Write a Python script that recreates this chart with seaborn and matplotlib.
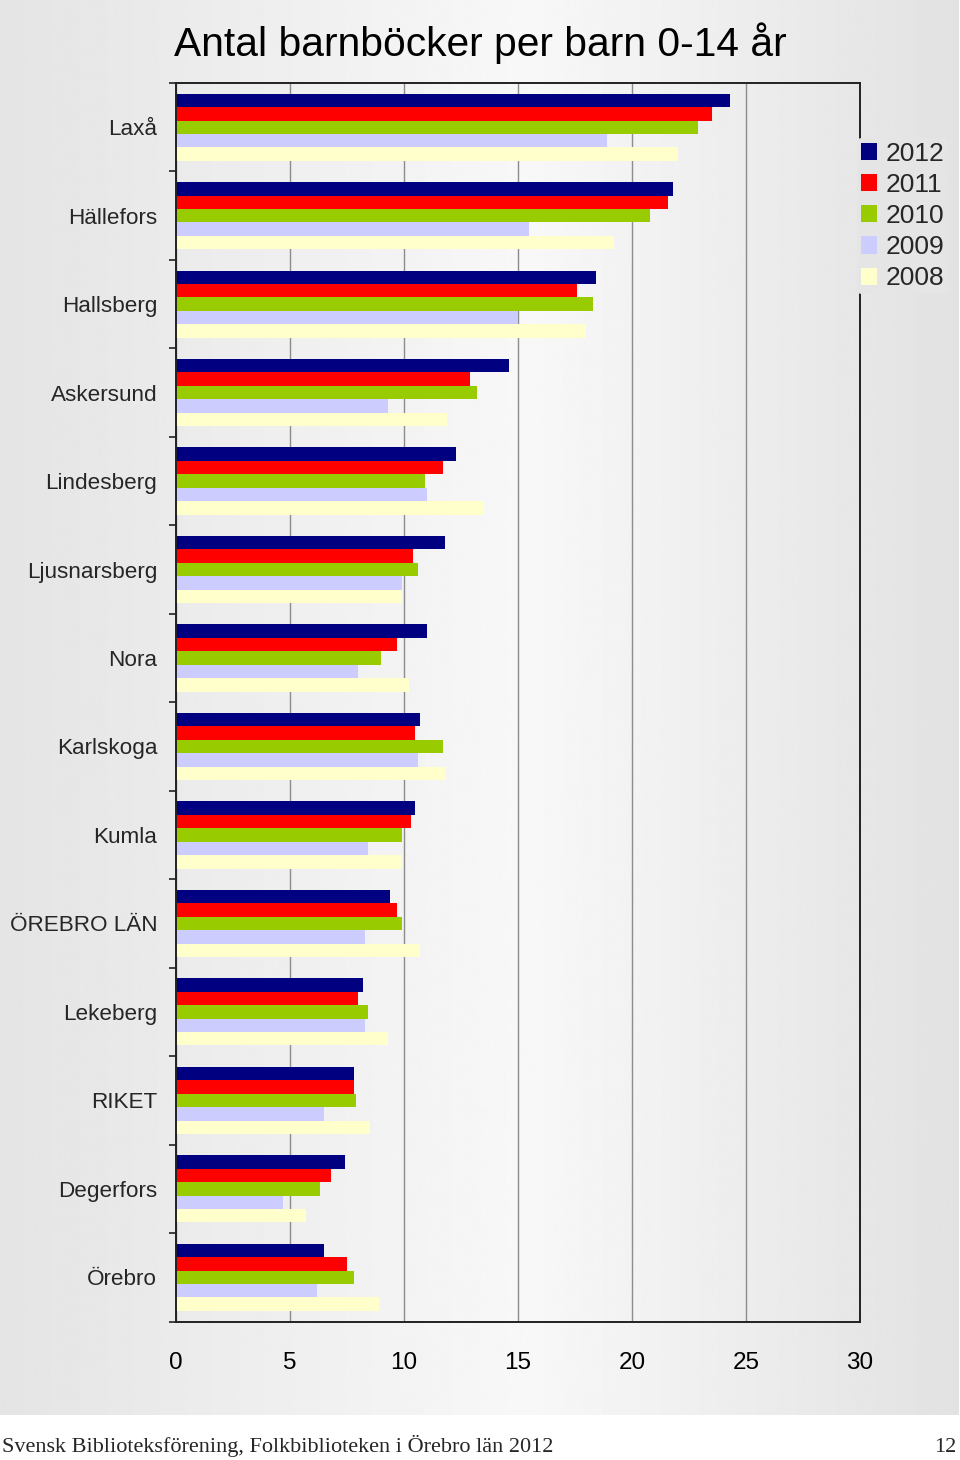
import numpy as np
import pandas as pd
import matplotlib
matplotlib.use('Agg')
import matplotlib.pyplot as plt
import seaborn as sns

# data
kommuner = ['Laxå', 'Hällefors', 'Hallsberg', 'Askersund', 'Lindesberg', 'Ljusnarsberg', 'Nora',
            'Karlskoga', 'Kumla', 'ÖREBRO LÄN', 'Lekeberg', 'RIKET', 'Degerfors', 'Örebro']
years = ['2012', '2011', '2010', '2009', '2008']
v2012 = [24.3, 21.8, 18.4, 14.6, 12.3, 11.8, 11.0, 10.7, 10.5, 9.4, 8.2, 7.8, 7.4, 6.5]
v2011 = [23.5, 21.6, 17.6, 12.9, 11.7, 10.4, 9.7, 10.5, 10.3, 9.7, 8.0, 7.8, 6.8, 7.5]
v2010 = [22.9, 20.8, 18.3, 13.2, 10.9, 10.6, 9.0, 11.7, 9.9, 9.9, 8.4, 7.9, 6.3, 7.8]
v2009 = [18.9, 15.5, 15.0, 9.3, 11.0, 9.9, 8.0, 10.6, 8.4, 8.3, 8.3, 6.5, 4.7, 6.2]
v2008 = [22.0, 19.2, 18.0, 11.9, 13.5, 9.9, 10.2, 11.8, 9.9, 10.7, 9.3, 8.5, 5.7, 8.9]
x_ticks = [0, 5, 10, 15, 20, 25, 30]

colors = {'2012': '#000080', '2011': '#ff0000', '2010': '#99cc00', '2009': '#ccccff', '2008': '#ffffcc'}

rows = []
for yr, vals in zip(years, [v2012, v2011, v2010, v2009, v2008]):
    for k, v in zip(kommuner, vals):
        rows.append({'Kommun': k, 'År': yr, 'Antal': v})
df = pd.DataFrame(rows)

sns.set_style('ticks')
plt.rcParams['font.family'] = ['Liberation Sans', 'DejaVu Sans']

W, H = 960, 1460
fig = plt.figure(figsize=(W / 100, H / 100), dpi=100)
fig.patch.set_facecolor('white')

# grey gradient background (everything above the white footer strip)
gx = [0.0, 0.55, 1.0]
gv = [0.895, 0.972, 0.886]
xs = np.linspace(0, 1, 400)
grad = np.interp(xs, gx, gv)[None, :]
bg = fig.add_axes([0, 45 / H, 959 / W, 1 - 45 / H])
bg.imshow(grad, cmap='gray', vmin=0, vmax=1, aspect='auto', extent=[0, 1, 0, 1])
bg.axis('off')

ax = fig.add_axes([176 / W, 1 - 1321.5 / H, 684 / W, (1321.5 - 83) / H])
ax.set_facecolor('none')
sns.barplot(data=df, x='Antal', y='Kommun', hue='År', hue_order=years, order=kommuner,
            palette=colors, orient='h', width=0.76, saturation=1, linewidth=0, ax=ax)

ax.set_xlim(0, 30)
ax.set_ylim(len(kommuner) - 0.5, -0.5)
ax.set_xticks(x_ticks)
ax.set_xlabel('')
ax.set_ylabel('')
ax.grid(axis='x', color='#8c8c8c', linewidth=1.0)
ax.grid(axis='y', visible=False)
ax.set_axisbelow(True)
for s in ax.spines.values():
    s.set_visible(True)
    s.set_color('#222222')
    s.set_linewidth(1.4)

ax.tick_params(axis='x', length=0, labelsize=17.5, pad=22, colors='black')
ax.tick_params(axis='y', which='major', length=0, labelsize=16.2, pad=13.5)
ax.set_yticks(np.arange(-0.5, len(kommuner), 1.0), minor=True)
ax.tick_params(axis='y', which='minor', length=5, width=1.2, color='#222222', direction='out')

handles, labels = ax.get_legend_handles_labels()
ax.get_legend().remove()
leg_face = str(np.interp(0.94, gx, gv))
leg = fig.legend(handles, labels, loc='upper left', bbox_to_anchor=(857 / W, 1 - 138 / H),
                 frameon=True, facecolor=leg_face, edgecolor='none', framealpha=1,
                 fontsize=19, handlelength=0.62, handleheight=0.62, handletextpad=0.32,
                 labelspacing=0.27, borderpad=0.15, borderaxespad=0)
leg.set_zorder(10)

fig.text(480 / W, 1 - 56 / H, 'Antal barnböcker per barn 0-14 år', ha='center', va='baseline',
         fontsize=29.3, color='black')

fig.text(2 / W, 1 - 1452 / H, 'Svensk Biblioteksförening, Folkbiblioteken i Örebro län 2012',
         ha='left', va='baseline', fontsize=16, family=['Liberation Serif', 'DejaVu Serif'])
fig.text(956 / W, 1 - 1452 / H, '12', ha='right', va='baseline', fontsize=16,
         family=['Liberation Serif', 'DejaVu Serif'])

fig.savefig('out.png', dpi=100, facecolor=fig.get_facecolor())
